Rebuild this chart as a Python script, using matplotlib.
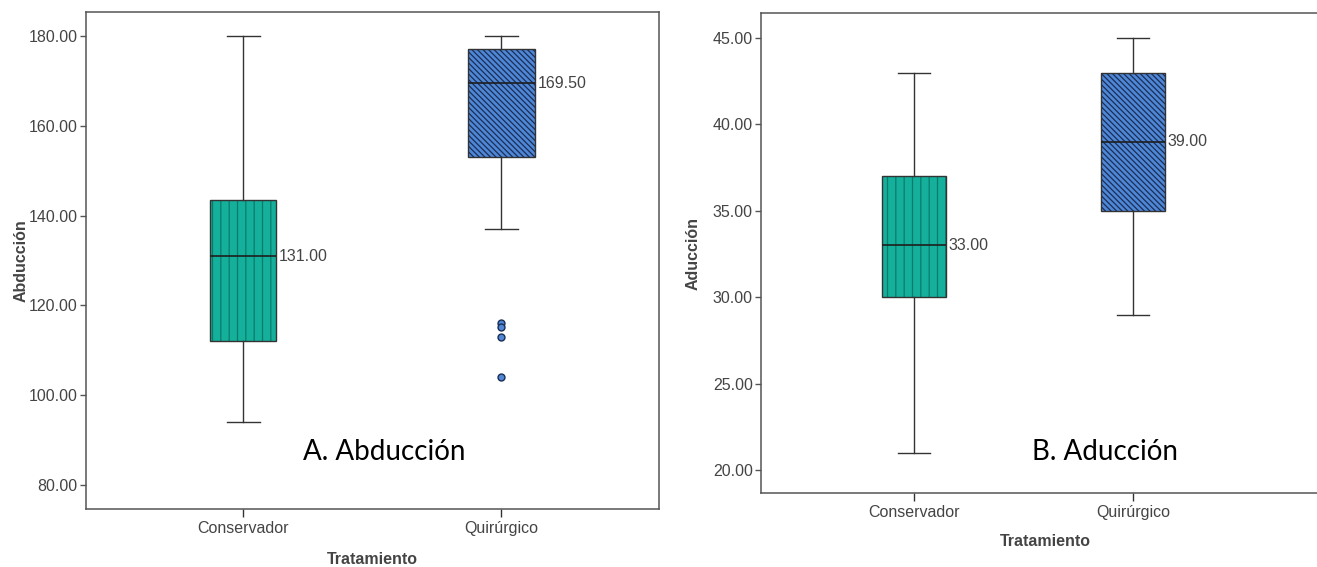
import matplotlib
matplotlib.use("Agg")
import matplotlib.pyplot as plt
from matplotlib.patches import PathPatch

# ---- data -------------------------------------------------------------
groups = ["Conservador", "Quirúrgico"]

# Abducción (degrees)
abd_q1 = [112.0, 153.0]
abd_med = [131.0, 169.5]
abd_q3 = [143.5, 177.0]
abd_lo = [94.0, 137.0]
abd_hi = [180.0, 180.0]
abd_fliers = [[], [116.0, 115.2, 113.0, 104.0]]
abd_ticks = [80, 100, 120, 140, 160, 180]

# Aducción (degrees)
adu_q1 = [30.0, 35.0]
adu_med = [33.0, 39.0]
adu_q3 = [37.0, 43.0]
adu_lo = [21.0, 29.0]
adu_hi = [43.0, 45.0]
adu_fliers = [[], []]
adu_ticks = [20, 25, 30, 35, 40, 45]

# ---- style ------------------------------------------------------------
plt.rcParams["font.family"] = ["Liberation Sans", "DejaVu Sans"]
plt.rcParams["hatch.linewidth"] = 0.9

TEAL = "#14B09B"
BLUE = "#4E87D6"
HATCH_COL = ["#0C7A6B", "#1B2D55"]
HATCHES = ["||", "\\" * 6]
FILLS = [TEAL, BLUE]
EDGE = "#333333"
TXT = "#444444"
SPINE = "#555555"

W, H = 1317, 567
fig = plt.figure(figsize=(W / 100, H / 100), dpi=100)


def panel(rect, label_pos, q1, med, q3, lo, hi, fliers, ticks, ylim, xlim,
          width, ylabel, tag, tag_xy):
    ax = fig.add_axes(rect)
    stats = []
    for i, g in enumerate(groups):
        stats.append(dict(label=g, q1=q1[i], med=med[i], q3=q3[i],
                          whislo=lo[i], whishi=hi[i], fliers=fliers[i]))
    art = ax.bxp(stats, positions=[0, 1], widths=width, patch_artist=True,
                 showfliers=True,
                 whiskerprops=dict(color=EDGE, linewidth=1.0),
                 capprops=dict(color=EDGE, linewidth=1.0),
                 medianprops=dict(color="#1e1e1e", linewidth=1.2, zorder=4),
                 flierprops=dict(marker="o", markersize=5,
                                 markerfacecolor=BLUE,
                                 markeredgecolor="#1B2D55",
                                 markeredgewidth=1.0))
    for i, box in enumerate(art["boxes"]):
        box.set_facecolor(FILLS[i])
        box.set_hatch(HATCHES[i])
        box.set_edgecolor(HATCH_COL[i])
        box.set_linewidth(0)
        outline = PathPatch(box.get_path(), transform=box.get_transform(),
                            fill=False, edgecolor=EDGE, linewidth=1.0,
                            zorder=3)
        ax.add_patch(outline)
    for i in range(len(groups)):
        ax.annotate(f"{med[i]:.2f}", xy=(i + width / 2, med[i]),
                    xytext=(2, 0), textcoords="offset points",
                    ha="left", va="center", fontsize=11.5, color=TXT)

    ax.set_ylim(*ylim)
    ax.set_xlim(*xlim)
    ax.set_yticks(ticks)
    ax.set_yticklabels([f"{t:.2f}" for t in ticks])
    ax.set_xticks([0, 1])
    ax.set_xticklabels(groups)
    ax.tick_params(axis="y", length=4.5, width=1.0, color=SPINE,
                   labelsize=11.5, labelcolor=TXT, pad=1.5)
    ax.tick_params(axis="x", length=6, width=1.0, color=EDGE,
                   labelsize=11.5, labelcolor=TXT, pad=2.5)
    for s in ax.spines.values():
        s.set_color(SPINE)
        s.set_linewidth(1.1)
    ax.set_ylabel(ylabel, fontsize=11.5, fontweight="bold", color=TXT)
    ax.set_xlabel("Tratamiento", fontsize=11.5, fontweight="bold", color=TXT)
    ax.yaxis.set_label_coords(label_pos[0], 0.5)
    ax.xaxis.set_label_coords(0.5, label_pos[1])
    fig.text(tag_xy[0] / W, 1 - tag_xy[1] / H, tag, fontsize=20,
             family=["Lato", "DejaVu Sans"], color="black",
             ha="center", va="center")
    return ax


panel([85.7 / W, 1 - 509 / H, (659 - 85.7) / W, (509 - 12.3) / H],
      (-0.100, -0.086),
      abd_q1, abd_med, abd_q3, abd_lo, abd_hi, abd_fliers, abd_ticks,
      (74.65, 185.28), (-0.61, 1.61), 0.256, "Abducción", "A. Abducción",
      (384, 452))

panel([761 / W, 1 - 493 / H, (1330 - 761) / W, (493 - 13) / H],
      (-0.107, -0.086),
      adu_q1, adu_med, adu_q3, adu_lo, adu_hi, adu_fliers, adu_ticks,
      (18.67, 46.45), (-0.70, 1.90), 0.29, "Aducción", "B. Aducción",
      (1105, 452))

fig.savefig("out.png", dpi=100)
